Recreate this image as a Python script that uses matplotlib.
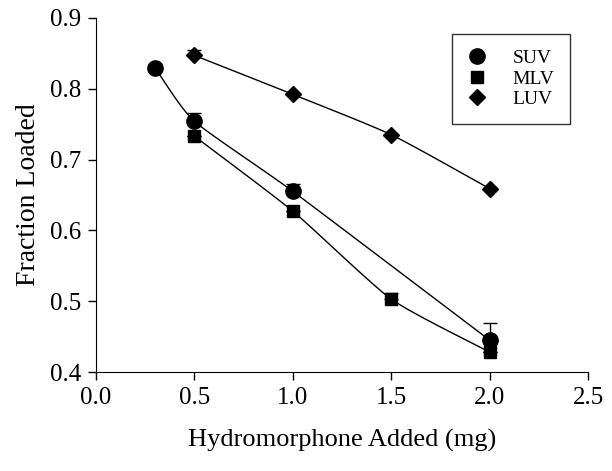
import matplotlib.pyplot as plt
from matplotlib.lines import Line2D
import numpy as np

plt.rcParams['font.family'] = ['Liberation Serif', 'DejaVu Serif']

suv_x = [0.3, 0.5, 1.0, 2.0]
suv_y = [0.829, 0.754, 0.655, 0.445]
suv_err = [0.0, 0.012, 0.010, 0.024]

mlv_x = [0.5, 1.0, 1.5, 2.0]
mlv_y = [0.733, 0.627, 0.503, 0.428]
mlv_err = [0.0, 0.0, 0.008, 0.0]

luv_x = [0.5, 1.0, 1.5, 2.0]
luv_y = [0.847, 0.792, 0.735, 0.659]
luv_err = [0.008, 0.0, 0.0, 0.0]


def smooth(x, y, n=30, k=0.6):
    # cardinal curve through the points, only for drawing the line
    x = np.asarray(x, float)
    y = np.asarray(y, float)
    px = np.concatenate([[2 * x[0] - x[1]], x, [2 * x[-1] - x[-2]]])
    py = np.concatenate([[2 * y[0] - y[1]], y, [2 * y[-1] - y[-2]]])
    xs, ys = [], []
    t = np.linspace(0, 1, n)
    h00 = 2 * t ** 3 - 3 * t ** 2 + 1
    h10 = t ** 3 - 2 * t ** 2 + t
    h01 = -2 * t ** 3 + 3 * t ** 2
    h11 = t ** 3 - t ** 2
    for i in range(1, len(px) - 2):
        for p, out in ((px, xs), (py, ys)):
            m1 = k * 0.5 * (p[i + 1] - p[i - 1])
            m2 = k * 0.5 * (p[i + 2] - p[i])
            out.extend(h00 * p[i] + h10 * m1 + h01 * p[i + 1] + h11 * m2)
    return xs, ys


fig = plt.figure(figsize=(6.12, 4.71), dpi=100)
ax = fig.add_axes([0.157, 0.210, 0.804, 0.752])

series = [(suv_x, suv_y, suv_err, 'o', 11, 'SUV'),
          (mlv_x, mlv_y, mlv_err, 's', 9, 'MLV'),
          (luv_x, luv_y, luv_err, 'D', 8, 'LUV')]
handles = []
for x, y, e, m, ms, lab in series:
    sx, sy = smooth(x, y)
    ax.plot(sx, sy, color='black', lw=1)
    ax.errorbar(x, y, yerr=[np.zeros(len(e)), e], fmt=m, color='black',
                ms=ms, capsize=5, elinewidth=1, capthick=1)
    handles.append(Line2D([], [], marker=m, ms=ms, color='black', ls='none', label=lab))

ax.set_xlim(0, 2.5)
ax.set_ylim(0.4, 0.9)
ax.set_xticks(np.arange(0, 2.51, 0.5))
ax.set_yticks(np.arange(0.4, 0.91, 0.1))
ax.xaxis.set_major_formatter(plt.FormatStrFormatter('%.1f'))
ax.yaxis.set_major_formatter(plt.FormatStrFormatter('%.1f'))
ax.tick_params(direction='out', length=6, width=1, labelsize=18, pad=5)
ax.spines['top'].set_visible(False)
ax.spines['right'].set_visible(False)
ax.set_xlabel('Hydromorphone Added (mg)', fontsize=19, labelpad=14)
ax.set_ylabel('Fraction Loaded', fontsize=20, labelpad=6)

leg = ax.legend(handles=handles, loc='upper right', bbox_to_anchor=(0.963, 0.955),
                fontsize=14, frameon=True, fancybox=False, edgecolor='black',
                borderpad=0.8, labelspacing=0.15, handlelength=1.0,
                handletextpad=1.3, borderaxespad=0)
leg.get_frame().set_linewidth(1)

fig.savefig('out.png', dpi=100)
